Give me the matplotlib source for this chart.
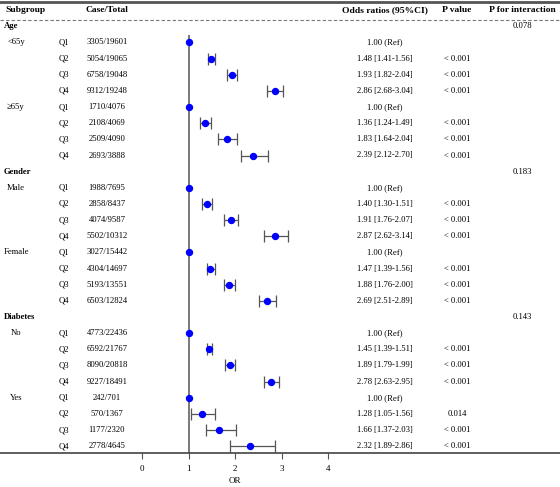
import numpy as np
import matplotlib
matplotlib.use("Agg")
import matplotlib.pyplot as plt

plt.rcParams['font.family'] = ['Liberation Serif', 'DejaVu Serif']

sections = ["Age", "Gender", "Diabetes"]
p_interaction = ["0.078", "0.183", "0.143"]
subgroups = ["<65y", "\u226565y", "Male", "Female", "No", "Yes"]
quartiles = ["Q1", "Q2", "Q3", "Q4"]

case_total = ["3305/19601", "5054/19065", "6758/19048", "9312/19248",
              "1710/4076", "2108/4069", "2509/4090", "2693/3888",
              "1988/7695", "2858/8437", "4074/9587", "5502/10312",
              "3027/15442", "4304/14697", "5193/13551", "6503/12824",
              "4773/22436", "6592/21767", "8090/20818", "9227/18491",
              "242/701", "570/1367", "1177/2320", "2778/4645"]
or_est = [1.00, 1.48, 1.93, 2.86, 1.00, 1.36, 1.83, 2.39,
          1.00, 1.40, 1.91, 2.87, 1.00, 1.47, 1.88, 2.69,
          1.00, 1.45, 1.89, 2.78, 1.00, 1.28, 1.66, 2.32]
ci_low = [1.00, 1.41, 1.82, 2.68, 1.00, 1.24, 1.64, 2.12,
          1.00, 1.30, 1.76, 2.62, 1.00, 1.39, 1.76, 2.51,
          1.00, 1.39, 1.79, 2.63, 1.00, 1.05, 1.37, 1.89]
ci_high = [1.00, 1.56, 2.04, 3.04, 1.00, 1.49, 2.04, 2.70,
           1.00, 1.51, 2.07, 3.14, 1.00, 1.56, 2.00, 2.89,
           1.00, 1.51, 1.99, 2.95, 1.00, 1.56, 2.03, 2.86]
p_value = ["", "< 0.001", "< 0.001", "< 0.001", "", "< 0.001", "< 0.001", "< 0.001",
           "", "< 0.001", "< 0.001", "< 0.001", "", "< 0.001", "< 0.001", "< 0.001",
           "", "< 0.001", "< 0.001", "< 0.001", "", "0.014", "< 0.001", "< 0.001"]

W, H = 560, 487
fig = plt.figure(figsize=(W / 100, H / 100), dpi=100)
ax = fig.add_axes([0, 0, 1, 1])

# pixel -> data along x (OR axis: 0 at px 142, 46.5 px per unit)
x0, unit = 142, 46.5
def px(x):
    return (x - x0) / unit

ax.set_xlim(px(0), px(W))
ax.set_ylim(H, 0)

fs = 6.2
row0, step = 26.3, 16.15

# header
ax.axhline(2, color='#555555', lw=2)
ax.axhline(19.5, color='#777777', lw=0.8, ls=(0, (3, 2)))
hy = 10.5
ax.text(px(5), hy, "Subgroup", fontsize=6.8, fontweight='bold', va='center', ha='left')
ax.text(px(107), hy, "Case/Total", fontsize=6.8, fontweight='bold', va='center', ha='center')
ax.text(px(385), hy, "Odds ratios (95%CI)", fontsize=6.8, fontweight='bold', va='center', ha='center')
ax.text(px(457), hy, "P value", fontsize=6.8, fontweight='bold', va='center', ha='center')
ax.text(px(522), hy, "P for interaction", fontsize=6.8, fontweight='bold', va='center', ha='center')

ys = []
row = 0
k = 0
for s, sec in enumerate(sections):
    y = row0 + step * row
    ax.text(px(4), y, sec, fontsize=fs, fontweight='bold', va='center', ha='left')
    ax.text(px(522), y, p_interaction[s], fontsize=fs, va='center', ha='center')
    row += 1
    for g in range(2):
        sg = subgroups[2 * s + g]
        for q, ql in enumerate(quartiles):
            y = row0 + step * row
            if q == 0:
                ax.text(px(16), y, sg, fontsize=fs, va='center', ha='center')
            ax.text(px(59), y, ql, fontsize=fs, va='center', ha='left')
            ax.text(px(107), y, case_total[k], fontsize=fs, va='center', ha='center')
            if q == 0:
                lab = "%.2f (Ref)" % or_est[k]
            else:
                lab = "%.2f [%.2f-%.2f]" % (or_est[k], ci_low[k], ci_high[k])
            ax.text(px(385), y, lab, fontsize=fs, va='center', ha='center')
            ax.text(px(457), y, p_value[k], fontsize=fs, va='center', ha='center')
            ys.append(y)
            row += 1
            k += 1

ys = np.array(ys)
est = np.array(or_est)
lo = np.array(ci_low)
hi = np.array(ci_high)

ax.vlines(1, 35, 453, color='#555555', lw=1.1, zorder=1)
has_ci = hi > lo
ax.errorbar(est[has_ci], ys[has_ci], xerr=[est[has_ci] - lo[has_ci], hi[has_ci] - est[has_ci]],
            fmt='none', ecolor='#555555', elinewidth=0.9, capsize=4.3, capthick=0.9, zorder=2)
ax.plot(est, ys, 'o', color='#0000ff', markersize=4.3, zorder=3)

# OR axis
for side in ['top', 'left', 'right']:
    ax.spines[side].set_visible(False)
ax.spines['bottom'].set_position(('data', 453))
ax.spines['bottom'].set_color('#333333')
ax.spines['bottom'].set_linewidth(1.1)
ax.set_xticks([0, 1, 2, 3, 4])
ax.tick_params(axis='x', direction='out', length=4.3, width=0.8, color='#555555',
               labelsize=6.5, pad=4)
ax.set_yticks([])
ax.text(2, 481, "OR", fontsize=6.5, va='center', ha='center')

fig.savefig("out.png", dpi=100)
